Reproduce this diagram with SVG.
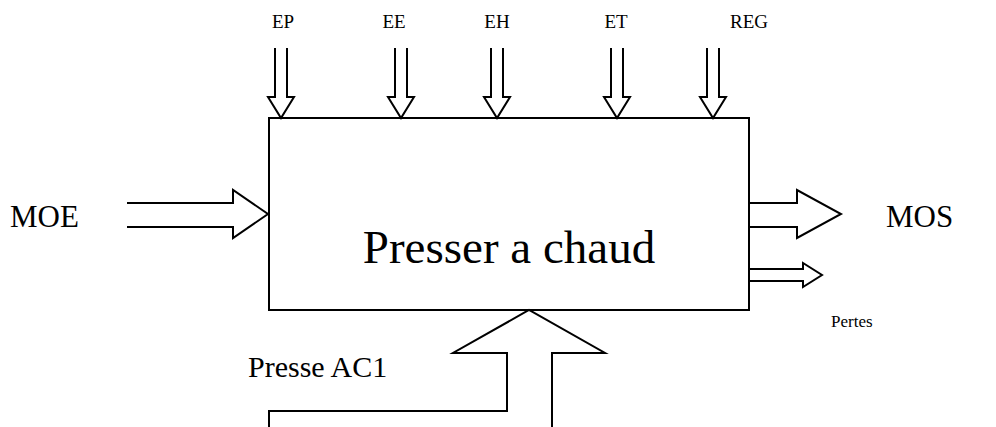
<svg xmlns="http://www.w3.org/2000/svg" width="996" height="427" viewBox="0 0 996 427">
  <style>
    .ln { fill: none; stroke: #000; stroke-width: 2; stroke-linejoin: miter; }
    .box { fill: #fff; stroke: #000; stroke-width: 2; }
    text { font-family: "Liberation Serif", "Times New Roman", serif; fill: #000; }
    .sm { font-size: 19px; text-anchor: middle; }
    .md { font-size: 31px; }
    .lg { font-size: 47px; text-anchor: middle; }
  </style>

  <g id="process">
    <rect class="box" x="269" y="118" width="480" height="192"/>
    <text class="lg" x="509" y="263">Presser a chaud</text>
  </g>

  <g id="connectors">
    <!-- control inputs from the top -->
    <polyline class="ln" points="275,48 275,97 268,97 281,118 294,97 287,97 287,48"/>
    <polyline class="ln" points="395,48 395,97 388,97 401,118 414,97 407,97 407,48"/>
    <polyline class="ln" points="491,48 491,97 484,97 497,118 510,97 503,97 503,48"/>
    <polyline class="ln" points="611,48 611,97 604,97 617,118 630,97 623,97 623,48"/>
    <polyline class="ln" points="707,48 707,97 700,97 713,118 726,97 719,97 719,48"/>
    <!-- material in -->
    <polyline class="ln" points="127,203 233,203 233,190 268,214 233,238 233,227 127,227"/>
    <!-- material out -->
    <polyline class="ln" points="749,203 797,203 797,190 841,214 797,238 797,227 749,227"/>
    <!-- losses -->
    <polyline class="ln" points="749,269 803,269 803,263 822,275 803,287 803,281 749,281"/>
    <!-- mechanism from below -->
    <polyline class="ln" points="269,427 269,411 507,411 507,353 453,353 529,310 605,353 552,353 552,427"/>
  </g>

  <g id="labels">
    <text class="sm" x="283" y="28">EP</text>
    <text class="sm" x="394" y="28">EE</text>
    <text class="sm" x="497" y="28">EH</text>
    <text class="sm" x="616" y="28">ET</text>
    <text class="sm" x="749" y="28">REG</text>
    <text class="md" x="10" y="227">MOE</text>
    <text class="md" x="886" y="227">MOS</text>
    <text x="831" y="327" style="font-size:17px">Pertes</text>
    <text class="md" x="248" y="377" style="font-size:30px">Presse AC1</text>
  </g>
</svg>
